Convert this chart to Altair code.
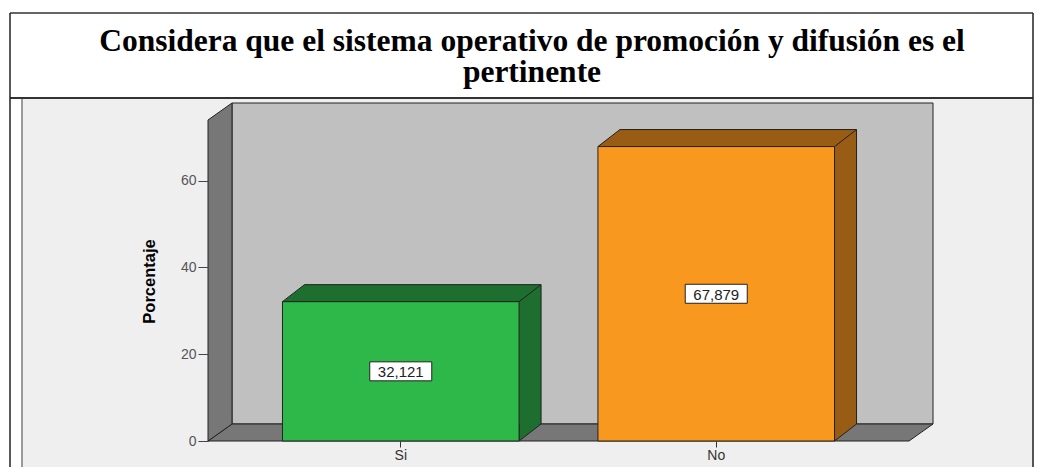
import altair as alt
import pandas as pd

# ---------------- data ----------------
categories = ["Si", "No"]
percentages = [32.121, 67.879]
y_ticks = [0, 20, 40, 60]
title_lines = [
    "Considera que el sistema operativo de promoción y difusión es el",
    "pertinente",
]
y_title = "Porcentaje"

# ---------------- style ----------------
FRONT = ["#2eb84a", "#f8981e"]
DARK = ["#1e6e30", "#985c14"]
EDGE = "#222222"
WALL = "#777777"
BACK = "#c0c0c0"
PANEL = "#efefef"

W, H = 701, 321          # plot area (front frame)
DX, DY = 24, 17          # depth of walls / floor
BX, BY = 22, 17          # depth of bars
P_IN, P_OUT = 0.25, 0.236
step = W / (len(categories) - P_IN + 2 * P_OUT)
bw = step * (1 - P_IN)   # bandwidth, same as the band scale computes

df = pd.DataFrame({"cat": categories, "pct": percentages})
one = pd.DataFrame({"k": [0]})

xs = alt.Scale(type="band", domain=categories, paddingInner=P_IN, paddingOuter=P_OUT)
ys = alt.Scale(domain=[0, 74], nice=False, zero=True)
dark_scale = alt.Scale(domain=categories, range=DARK)
front_scale = alt.Scale(domain=categories, range=FRONT)

X_AXIS = alt.Axis(
    labelFont="Liberation Sans", labelFontSize=14, labelColor="#333333",
    labelPadding=1, tickSize=6, tickColor="#333333", domain=False, grid=False,
    labelAngle=0, zindex=1, title=None)
Y_AXIS = alt.Axis(
    values=y_ticks, labelFont="Liberation Sans", labelFontSize=14,
    labelColor="#555555", labelPadding=2, tickSize=10, tickColor="#444444",
    domain=False, grid=False, zindex=1, title=y_title,
    titleFont="'Liberation Sans Narrow', 'Liberation Sans', sans-serif",
    titleFontSize=16.5, titleFontWeight="bold", titleColor="#000000",
    titleX=-59, titleY=161, titleAngle=270, titleBaseline="middle",
    titleAlign="center")


def X(band=0.5):
    return alt.X("cat:N", scale=xs, axis=X_AXIS, bandPosition=band)


def Y(field="pct"):
    return alt.Y(f"{field}:Q", scale=ys, axis=Y_AXIS)


base1 = alt.Chart(one)

# page decoration (panel, frame lines)
panel = base1.mark_rect(fill=PANEL, strokeWidth=0).encode(
    x=alt.value(-185), x2=alt.value(830), y=alt.value(-21), y2=alt.value(360))
frame_top = base1.mark_rule(color="#333333", strokeWidth=1.5).encode(
    x=alt.value(-198), x2=alt.value(825), y=alt.value(-107), y2=alt.value(-107))
frame_div = base1.mark_rule(color="#333333", strokeWidth=2).encode(
    x=alt.value(-198), x2=alt.value(825), y=alt.value(-22), y2=alt.value(-22))
frame_left = base1.mark_rule(color="#222222", strokeWidth=1.5).encode(
    x=alt.value(-198), x2=alt.value(-198), y=alt.value(-107), y2=alt.value(360))
frame_right = base1.mark_rule(color="#222222", strokeWidth=1.5).encode(
    x=alt.value(825), x2=alt.value(825), y=alt.value(-107), y2=alt.value(360))
inner_left = base1.mark_rule(color="#9a9a9a", strokeWidth=2).encode(
    x=alt.value(-186), x2=alt.value(-186), y=alt.value(-21), y2=alt.value(360))

# 3D frame: back wall, floor, left wall
back_wall = base1.mark_rect(fill=BACK, stroke=EDGE, strokeWidth=1).encode(
    x=alt.value(DX), x2=alt.value(W + DX), y=alt.value(-DY), y2=alt.value(H - DY))
floor = base1.mark_point(
    shape=f"M0,0 L{DX},{-DY} L{W + DX},{-DY} L{W},0 Z", size=4, filled=True,
    fill=WALL, stroke=EDGE, strokeWidth=1, opacity=1).encode(
    x=alt.value(0), y=alt.value(H))
left_wall = base1.mark_point(
    shape=f"M0,0 L{DX},{-DY} L{DX},{H - DY} L0,{H} Z", size=4, filled=True,
    fill=WALL, stroke=EDGE, strokeWidth=1, opacity=1).encode(
    x=alt.value(0), y=alt.value(0))

base = alt.Chart(df)

# bar side faces (shifted copy of the bar)
side = base.mark_bar(xOffset=BX, yOffset=-BY, y2Offset=-BY, strokeWidth=0).encode(
    x=X(), y=Y(), color=alt.Color("cat:N", scale=dark_scale, legend=None))
side_edge = base.mark_rule(color=EDGE, strokeWidth=1, xOffset=BX, yOffset=-BY, y2Offset=-BY).encode(
    x=X(1), y=Y(), y2=alt.datum(0))
side_foot = base.mark_point(
    shape=f"M0,{-BY} L0,0 L{BX},{-BY}", size=4, filled=True,
    stroke=EDGE, strokeWidth=1, opacity=1).encode(
    x=X(1), y=alt.Y(datum=0, scale=ys, axis=Y_AXIS),
    color=alt.Color("cat:N", scale=dark_scale, legend=None))
top_face = base.mark_point(
    shape=f"M0,0 L{BX},{-BY} L{bw + BX:.2f},{-BY} L{bw:.2f},0 Z", size=4, filled=True,
    stroke=EDGE, strokeWidth=1, opacity=1).encode(
    x=X(0), y=Y(), color=alt.Color("cat:N", scale=dark_scale, legend=None))

# front bars
front = base.mark_bar(stroke=EDGE, strokeWidth=1).encode(
    x=X(), y=Y(),
    fill=alt.Fill("cat:N", scale=front_scale, legend=None))

# value labels
lab = base.transform_calculate(
    mid="datum.pct / 2",
    label="replace(format(datum.pct, '.3f'), '.', ',')")
label_box = lab.mark_point(
    shape="M-31,-9.5 L31,-9.5 L31,9.5 L-31,9.5 Z", size=4, filled=True,
    fill="white", stroke=EDGE, strokeWidth=1, opacity=1).encode(x=X(), y=Y("mid"))
label_txt = lab.mark_text(
    font="Liberation Sans", fontSize=15, color="#222222", align="center",
    baseline="middle", dy=1).encode(x=X(), y=Y("mid"), text="label:N")

# title lines
TFONT = dict(font="Liberation Serif", fontWeight="bold", fontSize=31.5,
             color="black", align="center", baseline="alphabetic")
t1 = base1.mark_text(**TFONT).encode(
    x=alt.value(324), y=alt.value(-69), text=alt.value(title_lines[0]))
t2 = base1.mark_text(**TFONT).encode(
    x=alt.value(324), y=alt.value(-38), text=alt.value(title_lines[1]))

chart = alt.layer(
    panel, frame_top, frame_div, frame_left, frame_right, inner_left,
    back_wall, floor, left_wall,
    side, side_foot, top_face, side_edge, front,
    label_box, label_txt, t1, t2,
).resolve_scale(color="independent").properties(
    width=W, height=H,
    padding={"left": 200, "top": 112, "right": 125, "bottom": 26},
    autosize=alt.AutoSizeParams(type="none"),
    background="white",
).configure_view(strokeWidth=0, fill=None)

chart.save("out.html", embed_options={"renderer": "svg", "actions": False})
